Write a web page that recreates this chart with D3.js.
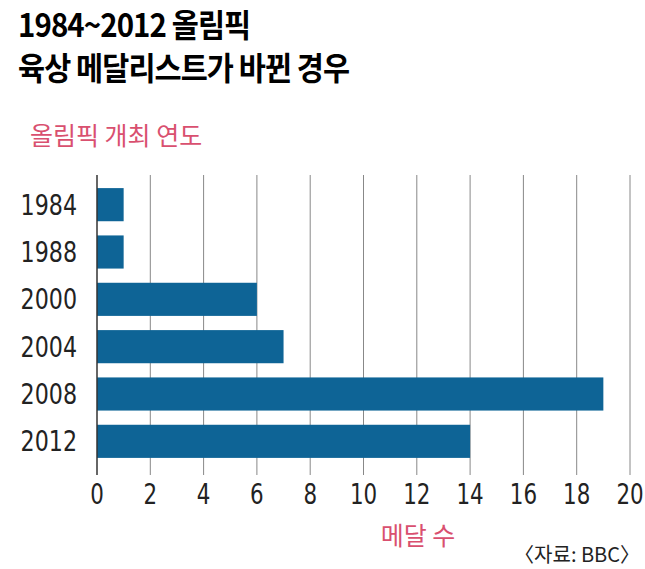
<!DOCTYPE html>
<html><head><meta charset="utf-8">
<script src="https://cdn.jsdelivr.net/npm/d3@7"></script>
<style>body{margin:0;background:#fff}</style>
</head><body><svg id="chart" width="645" height="569"></svg>
<script>
  'use strict';

  const years = ['1984', '1988', '2000', '2004', '2008', '2012'];
  const medals = [1, 1, 6, 7, 19, 14];
  const ticks = [0, 2, 4, 6, 8, 10, 12, 14, 16, 18, 20];

  const pink = '#d9506f';
  const blue = '#0e6496';
  const kr = '"Noto Sans CJK KR", sans-serif';
  const num = '"Liberation Sans Narrow", "DejaVu Sans Condensed", sans-serif';

  let svg = d3.select('#chart');

  // Title (squeezed horizontally to look condensed)
  let title = svg.append('g').attr('transform', 'translate(18,0) scale(0.92,1)');
  title.append('text').attr('x', 0).attr('y', 37)
    .style('font-family', kr).style('font-weight', 'bold').style('font-size', '32px')
    .style('letter-spacing', '-1px').text('1984~2012 올림픽');
  title.append('text').attr('x', 0).attr('y', 80)
    .style('font-family', kr).style('font-weight', 'bold').style('font-size', '32px')
    .style('letter-spacing', '-1px').text('육상 메달리스트가 바뀐 경우');

  svg.append('text').attr('x', 30).attr('y', 145)
    .style('font-family', kr).style('font-size', '25px').style('fill', pink)
    .text('올림픽 개최 연도');

  let x = d3.scaleLinear().domain([0, 20]).range([97, 630]);
  let y = d3.scaleBand().domain(years).range([181, 465]).paddingInner(0.3).paddingOuter(0.15);

  // Grid
  svg.append('g').selectAll('line').data(ticks.slice(1)).enter().append('line')
    .attr('x1', d => x(d)).attr('x2', d => x(d))
    .attr('y1', 175).attr('y2', 475)
    .style('stroke', '#888').style('stroke-width', 1);

  // Bars
  svg.append('g').selectAll('rect').data(years).enter().append('rect')
    .attr('x', x(0)).attr('y', d => y(d))
    .attr('width', (d, i) => x(medals[i]) - x(0))
    .attr('height', y.bandwidth())
    .style('fill', blue);

  svg.append('line').attr('x1', x(0)).attr('x2', x(0)).attr('y1', 175).attr('y2', 475)
    .style('stroke', '#333').style('stroke-width', 1.5);

  // Year labels
  svg.append('g').selectAll('text').data(years).enter().append('text')
    .attr('transform', d => 'translate(77,' + (y(d) + y.bandwidth() / 2 + 10) + ') scale(0.85,1)')
    .attr('text-anchor', 'end')
    .style('font-family', num).style('font-size', '29px').style('fill', '#222')
    .text(d => d);

  // Tick labels
  svg.append('g').selectAll('text').data(ticks).enter().append('text')
    .attr('transform', d => 'translate(' + x(d) + ',504) scale(0.85,1)')
    .attr('text-anchor', 'middle')
    .style('font-family', num).style('font-size', '28px').style('fill', '#222')
    .text(d => d);

  svg.append('text').attr('x', 418).attr('y', 545).attr('text-anchor', 'middle')
    .style('font-family', kr).style('font-size', '25px').style('fill', pink)
    .text('메달 수');

  svg.append('text').attr('x', 640).attr('y', 562).attr('text-anchor', 'end')
    .style('font-family', kr).style('font-size', '20px').style('fill', '#222')
    .text('〈자료: BBC〉');
</script></body></html>
